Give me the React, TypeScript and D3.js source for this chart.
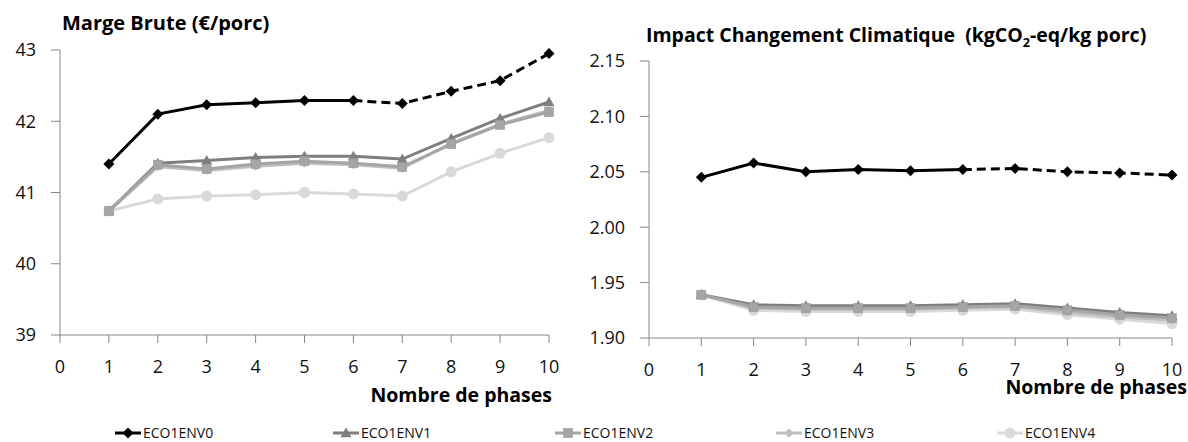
import React from "react";
import * as d3 from "d3";

const phases = [1, 2, 3, 4, 5, 6, 7, 8, 9, 10];
const xTicks = [0, 1, 2, 3, 4, 5, 6, 7, 8, 9, 10];
const seriesNames = ["ECO1ENV0", "ECO1ENV1", "ECO1ENV2", "ECO1ENV3", "ECO1ENV4"];

const margeENV0 = [41.4, 42.1, 42.23, 42.26, 42.29, 42.29, 42.25, 42.42, 42.57, 42.95];
const margeENV1 = [40.74, 41.41, 41.45, 41.49, 41.51, 41.51, 41.47, 41.76, 42.04, 42.27];
const margeENV2 = [40.74, 41.39, 41.33, 41.4, 41.44, 41.41, 41.36, 41.68, 41.95, 42.13];
const margeENV3 = [40.74, 41.36, 41.31, 41.37, 41.41, 41.39, 41.34, 41.69, 41.96, 42.15];
const margeENV4 = [40.74, 40.91, 40.95, 40.97, 41.0, 40.98, 40.95, 41.29, 41.55, 41.77];
const margeTicks = [39, 40, 41, 42, 43];

const ccENV0 = [2.045, 2.058, 2.05, 2.052, 2.051, 2.052, 2.053, 2.05, 2.049, 2.047];
const ccENV1 = [1.939, 1.93, 1.929, 1.929, 1.929, 1.93, 1.931, 1.927, 1.923, 1.92];
const ccENV2 = [1.939, 1.928, 1.927, 1.927, 1.927, 1.928, 1.929, 1.925, 1.921, 1.918];
const ccENV3 = [1.939, 1.927, 1.926, 1.926, 1.926, 1.927, 1.928, 1.923, 1.919, 1.916];
const ccENV4 = [1.939, 1.925, 1.924, 1.924, 1.924, 1.925, 1.926, 1.921, 1.917, 1.913];
const ccTicks = [1.9, 1.95, 2.0, 2.05, 2.1, 2.15];

const colors = ["#000000", "#7f7f7f", "#a5a5a5", "#bfbfbf", "#d9d9d9"];
const markers = ["diamond", "triangle", "square", "sdiamond", "circle"];
const dashFrom = 5; // index of phase 6: ENV0 dashed after
const drawOrder = [4, 3, 1, 2, 0];

const FONT = "'Open Sans', 'DejaVu Sans', sans-serif";
const AXIS = "#868686";

function Marker({ type, x, y, color }: { type: string; x: number; y: number; color: string }) {
  if (type === "diamond") {
    const s = 5.5;
    return <path d={`M${x},${y - s}L${x + s},${y}L${x},${y + s}L${x - s},${y}Z`} fill={color} />;
  }
  if (type === "sdiamond") {
    const s = 4.5;
    return <path d={`M${x},${y - s}L${x + s},${y}L${x},${y + s}L${x - s},${y}Z`} fill={color} />;
  }
  if (type === "triangle") {
    const s = 5.5;
    return <path d={`M${x},${y - s}L${x + s},${y + s * 0.75}L${x - s},${y + s * 0.75}Z`} fill={color} />;
  }
  if (type === "square") {
    const s = 4.5;
    return <rect x={x - s} y={y - s} width={2 * s} height={2 * s} fill={color} stroke="#9a9a9a" strokeWidth={0.6} />;
  }
  return <circle cx={x} cy={y} r={5.5} fill={color} />;
}

function Chart({
  data, yTicks, yFmt, x0, x1, yTop, yBot, yDomain, title, xLabelPos,
}: {
  data: number[][]; yTicks: number[]; yFmt: (v: number) => string;
  x0: number; x1: number; yTop: number; yBot: number; yDomain: [number, number];
  title: React.ReactNode; xLabelPos: [number, number];
}) {
  const x = d3.scaleLinear().domain([0, 10]).range([x0, x1]);
  const y = d3.scaleLinear().domain(yDomain).range([yBot, yTop]);
  const line = d3.line<[number, number]>().x((d) => x(d[0])).y((d) => y(d[1]));
  return (
    <g>
      <line x1={x0} x2={x0} y1={yTop} y2={yBot} stroke={AXIS} strokeWidth={1} />
      <line x1={x0} x2={x1} y1={yBot} y2={yBot} stroke={AXIS} strokeWidth={1} />
      {yTicks.map((t) => (
        <g key={"y" + t}>
          <line x1={x0 - 9} x2={x0} y1={y(t)} y2={y(t)} stroke={AXIS} />
          <text x={x0 - 24} y={y(t)} dy="0.36em" textAnchor="end" fontSize={18} fill="#111" fontFamily={FONT}>
            {yFmt(t)}
          </text>
        </g>
      ))}
      {xTicks.map((t) => (
        <g key={"x" + t}>
          <line x1={x(t)} x2={x(t)} y1={yBot} y2={yBot + 8} stroke={AXIS} />
          <text x={x(t)} y={yBot + 38} textAnchor="middle" fontSize={18} fill="#111" fontFamily={FONT}>
            {t}
          </text>
        </g>
      ))}
      {drawOrder.map((si) => {
        const pts: [number, number][] = phases.map((p, i) => [p, data[si][i]]);
        const w = 3;
        return (
          <g key={"s" + si}>
            {si === 0 ? (
              <>
                <path d={line(pts.slice(0, dashFrom + 1)) || ""} fill="none" stroke={colors[si]} strokeWidth={w} />
                <path d={line(pts.slice(dashFrom)) || ""} fill="none" stroke={colors[si]} strokeWidth={w} strokeDasharray="9,5" />
              </>
            ) : (
              <path d={line(pts) || ""} fill="none" stroke={colors[si]} strokeWidth={w} />
            )}
            {pts.map((d, i) => (
              <Marker key={i} type={markers[si]} x={x(d[0])} y={y(d[1])} color={colors[si]} />
            ))}
          </g>
        );
      })}
      {title}
      <text x={xLabelPos[0]} y={xLabelPos[1]} fontSize={19.5} fontWeight="bold" fill="#000" fontFamily={FONT} textAnchor="end">
        Nombre de phases
      </text>
    </g>
  );
}

export default function App() {
  const margeData = [margeENV0, margeENV1, margeENV2, margeENV3, margeENV4];
  const ccData = [ccENV0, ccENV1, ccENV2, ccENV3, ccENV4];
  const legendX = [115, 333, 555, 776, 997];
  return (
    <svg width={1188} height={442} style={{ position: "absolute", left: 0, top: 0, background: "#fff" }}>
      <rect width={1188} height={442} fill="#fff" />
      <Chart
        data={margeData}
        yTicks={margeTicks}
        yFmt={(v) => String(v)}
        x0={60}
        x1={549}
        yTop={50}
        yBot={335}
        yDomain={[39, 43]}
        xLabelPos={[552, 402]}
        title={
          <text x={62} y={30} fontSize={20} fontWeight="bold" fontFamily={FONT} fill="#000">
            Marge Brute (€/porc)
          </text>
        }
      />
      <Chart
        data={ccData}
        yTicks={ccTicks}
        yFmt={(v) => v.toFixed(2)}
        x0={649}
        x1={1172}
        yTop={61}
        yBot={338}
        yDomain={[1.9, 2.15]}
        xLabelPos={[1187, 394]}
        title={
          <text x={646} y={42} fontSize={19.5} fontWeight="bold" fontFamily={FONT} fill="#000" xmlSpace="preserve">
            Impact Changement Climatique  (kgCO
            <tspan fontSize={12.5} dy={5}>2</tspan>
            <tspan dy={-5}>-eq/kg porc)</tspan>
          </text>
        }
      />
      {seriesNames.map((n, i) => (
        <g key={n}>
          <line x1={legendX[i]} x2={legendX[i] + 26} y1={433} y2={433} stroke={colors[i]} strokeWidth={3} />
          <Marker type={markers[i]} x={legendX[i] + 13} y={433} color={colors[i]} />
          <text x={legendX[i] + 28} y={433} dy="0.36em" fontSize={14} fontFamily={FONT} fill="#111">
            {n}
          </text>
        </g>
      ))}
    </svg>
  );
}
